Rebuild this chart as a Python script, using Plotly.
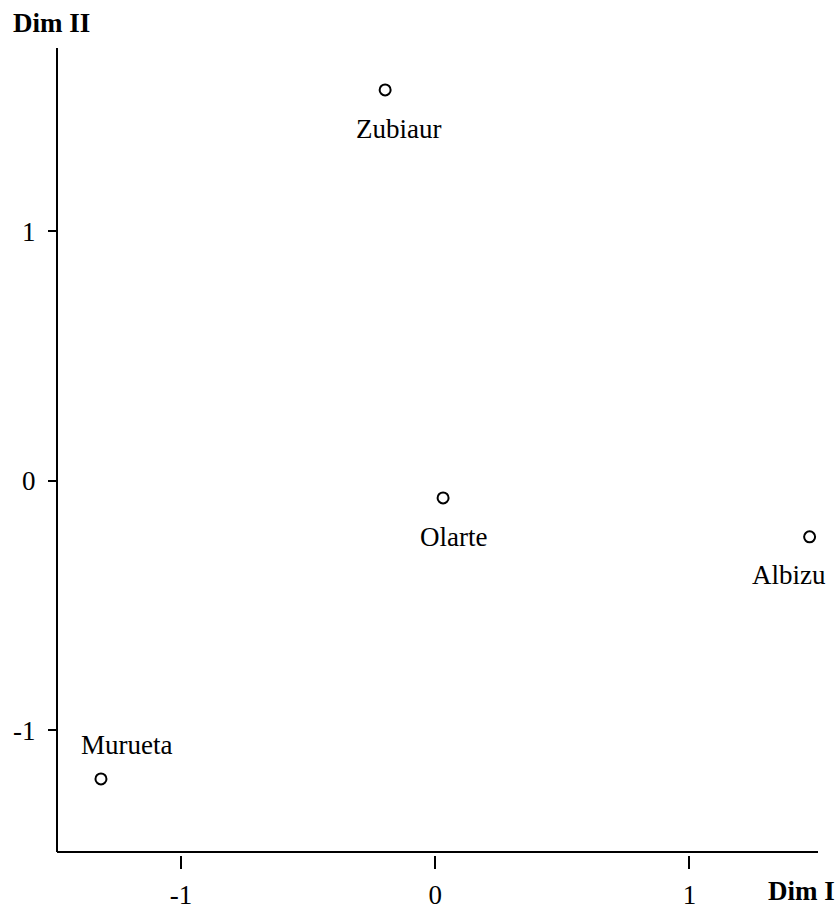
import plotly.graph_objects as go

names = ["Zubiaur", "Olarte", "Albizu", "Murueta"]
dim1 = [-0.197, 0.031, 1.473, -1.315]
dim2 = [1.567, -0.068, -0.224, -1.194]
tick_vals = [-1, 0, 1]
tick_text = ["-1", "0", "1"]

# label offsets in pixels (style)
label_shift = {"Zubiaur": (13, -39), "Olarte": (10, -39), "Albizu": (-21, -38), "Murueta": (26, 34)}

FONT = "Liberation Serif"
FS = 27
W, H = 838, 909
ML, MR, MT, MB = 57, 20, 48, 54
plot_h = H - MT - MB

fig = go.Figure()
fig.add_trace(go.Scatter(
    x=dim1, y=dim2, mode="markers",
    marker=dict(symbol="circle-open", size=11, color="black", line=dict(width=2, color="black")),
    hoverinfo="skip", showlegend=False,
))

for n, xv, yv in zip(names, dim1, dim2):
    dx, dy = label_shift[n]
    fig.add_annotation(x=xv, y=yv, xref="x", yref="y", text=n, showarrow=False,
                       xshift=dx, yshift=dy, font=dict(family=FONT, size=FS, color="black"))

fig.add_annotation(x=0, y=1, xref="paper", yref="paper", text="<b>Dim II</b>", showarrow=False,
                   xanchor="left", yanchor="middle", xshift=-46, yshift=25,
                   font=dict(family=FONT, size=FS, color="black"))
fig.add_annotation(x=1, y=0, xref="paper", yref="paper", text="<b>Dim I</b>", showarrow=False,
                   xanchor="right", yanchor="middle", xshift=19, yshift=-36,
                   font=dict(family=FONT, size=FS, color="black"))

# axis lines
fig.add_shape(type="line", xref="paper", yref="paper", x0=0, x1=1, y0=3 / plot_h, y1=3 / plot_h,
              line=dict(color="black", width=2))
fig.add_shape(type="line", xref="paper", yref="paper", x0=0, x1=0, y0=3 / plot_h, y1=1,
              line=dict(color="black", width=2))

fig.update_layout(
    width=W, height=H,
    margin=dict(l=ML, r=MR, t=MT, b=MB, autoexpand=False),
    paper_bgcolor="white", plot_bgcolor="white",
    font=dict(family=FONT, size=FS, color="black"),
    xaxis=dict(range=[-1.488, 1.506], showgrid=False, zeroline=False, showline=False, automargin=False,
               tickvals=tick_vals, ticktext=tick_text, ticks="outside", ticklen=13, tickwidth=2,
               tickcolor="black", ticklabelstandoff=3, tickfont=dict(family=FONT, size=FS)),
    yaxis=dict(range=[-1.499, 1.735], showgrid=False, zeroline=False, showline=False, automargin=False,
               tickvals=tick_vals, ticktext=tick_text, ticks="outside", ticklen=8, tickwidth=2,
               tickcolor="black", ticklabelstandoff=7, tickfont=dict(family=FONT, size=FS)),
)

fig.write_html("out.html", config={"displayModeBar": False},
               post_script="document.body.style.margin='0';document.body.style.overflow='hidden';")
